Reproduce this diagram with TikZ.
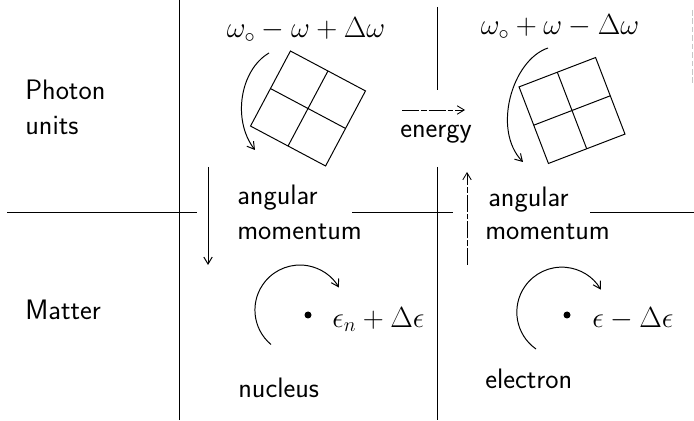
\documentclass[tikz,border=0pt]{standalone}
\usetikzlibrary{arrows.meta}
\begin{document}
\begin{tikzpicture}[x=0.025cm,y=0.025cm,>={Straight Barb[length=5pt,width=6pt]},
    rule/.style={line width=0.7pt},
    brokenrule/.style={line width=0.6pt,dash pattern=on 12pt off 1.5pt on 4pt off 1.5pt},
    txt/.style={font=\sffamily\fontsize{20}{23}\selectfont,inner sep=0pt,anchor=base west},
    mth/.style={font=\fontsize{20}{22}\selectfont,inner sep=0pt,anchor=base}]

    \useasboundingbox (0,0) rectangle (694,420);

    % dividing lines
    \draw[rule] (179,0) -- (179,420);
    \draw[rule] (437,413) -- (437,330);
    \draw[rule] (437,253) -- (437,0);
    \draw[rule] (7,208) -- (197,208);
    \draw[rule] (352,208) -- (453,208);
    \draw[rule] (590,208) -- (694,208);
    \draw[gray!45,line width=0.6pt,dash pattern=on 4pt off 2pt] (692,410) -- (692,335);

    % row labels
    \node[txt] (photon) at (25,320) {Photon};
    \node[txt] (units) at (25,285) {units};
    \node[txt] (matter) at (25,100) {Matter};

    % photon units
    \begin{scope}[shift={(308,311.5)},rotate=-28]
        \draw[rule] (-42.5,-42.5) rectangle (42.5,42.5);
        \draw[rule] (-42.5,0) -- (42.5,0) (0,-42.5) -- (0,42.5);
    \end{scope}
    \begin{scope}[shift={(572,309.5)},rotate=21]
        \draw[rule] (-41,-41) rectangle (41,41);
        \draw[rule] (-41,0) -- (41,0) (0,-41) -- (0,41);
    \end{scope}
    \node[mth] (wleft) at (306,382) {$\omega_{\circ}-\omega+\Delta\omega$};
    \node[mth] (wright) at (560,385) {$\omega_{\circ}+\omega-\Delta\omega$};
    \draw[rule,->] (269,367) .. controls (240,350) and (232,300) .. (255,270);
    \draw[rule,->] (548,372) .. controls (512,360) and (492,290) .. (523,258);

    % energy transfer
    \coordinate (efrom) at (402,310);
    \coordinate (eto) at (465,310);
    \draw[brokenrule,->] (efrom) -- (eto);
    \node[txt,anchor=base] (energy) at (436,282) {energy};

    % angular momentum transfer
    \coordinate (ltop) at (208,253);
    \coordinate (lbot) at (208,155);
    \draw[rule,->] (ltop) -- (lbot);
    \coordinate (rbot) at (467,155);
    \coordinate (rtop) at (467,248);
    \draw[brokenrule,->] (rbot) -- (rtop);
    \node[txt] (angl) at (237,215) {angular};
    \node[txt] (moml) at (237,180) {momentum};
    \node[txt] (angr) at (488,213) {angular};
    \node[txt] (momr) at (485,180) {momentum};

    % matter
    \fill (308,105) circle (3.5);
    \fill (567,105) circle (3.5);
    \draw[rule,->] (271,75.5) arc[start angle=230,end angle=30,radius=45];
    \draw[rule,->] (536,71) arc[start angle=235,end angle=30,radius=45];
    \node[mth,anchor=base west] (enuc) at (332,93) {$\epsilon_n+\Delta\epsilon$};
    \node[mth,anchor=base west] (eel) at (592,93) {$\epsilon-\Delta\epsilon$};
    \node[txt] (nucleus) at (238,23) {nucleus};
    \node[txt] (electron) at (485,32) {electron};

\end{tikzpicture}
\end{document}
